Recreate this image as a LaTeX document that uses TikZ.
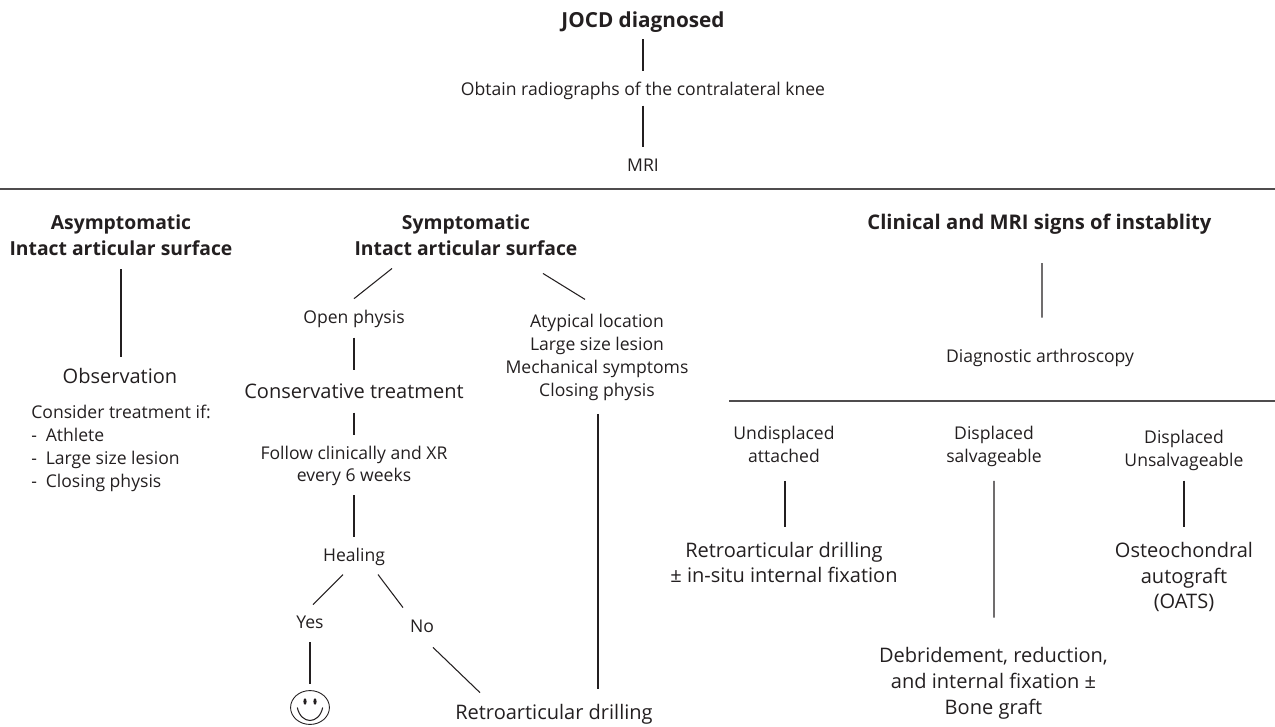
\documentclass[tikz,border=0pt]{standalone}
\usepackage{fontspec}
\setmainfont{Open Sans}
\usetikzlibrary{calc}
\usetikzlibrary{shapes.geometric}
\definecolor{inkblack}{HTML}{231F20}
\tikzset{
  every node/.style = {inner sep=0pt, align=center, text=inkblack, font=\fontsize{10}{13}\selectfont},
  big/.style = {font=\fontsize{11.4}{14.6}\selectfont},
  head/.style = {font=\fontsize{11}{15}\selectfont\bfseries},
  link/.style = {draw=inkblack, line width=0.6pt},
  rule/.style = {draw=inkblack!80, line width=0.8pt}
}

\begin{document}
\begin{tikzpicture}[x=0.02cm,y=-0.02cm]
\useasboundingbox (0,0) rectangle (1275,727);

% Top block
\node[head, font=\fontsize{11.8}{15}\selectfont\bfseries] (jocd) at (643,22.6) {JOCD diagnosed};
\node (xray) at (643,90.4) {Obtain radiographs of the contralateral knee};
\node (mri) at (643,165.7) {MRI};
\coordinate (ruleL) at (0,189);
\coordinate (ruleR) at (1275,189);
\draw[rule] (ruleL) -- (ruleR);
\draw[link] ($(jocd.south)+(0,6)$) -- ($(xray.north)+(0,-10.6)$);
\draw[link] ($(xray.south)+(0,6)$) -- ($(mri.north)+(0,-12.4)$);

% Asymptomatic
\node[head] (asym) at (121,235.5) {Asymptomatic\\Intact articular surface};
\node[big] (obs) at (120,376.4) {Observation};
\node[align=left, anchor=north west] (cons) at (31,405) {Consider treatment if:\\-\hspace{5pt}Athlete\\-\hspace{5pt}Large size lesion\\-\hspace{5pt}Closing physis};
\draw[link] ($(asym.south)+(0,13)$) -- ($(obs.north)+(1,-11)$);

% Symptomatic
\node[head] (sym) at (466,235.5) {Symptomatic\\Intact articular surface};
\node (open) at (354,319.4) {Open physis};
\node[big] (conserv) at (354,390.8) {Conservative treatment};
\node (follow) at (354,465.9) {Follow clinically and XR\\every 6 weeks};
\node (heal) at (354,557.4) {Healing};
\node (yes) at (310,622.7) {Yes};
\node (no) at (422,626.7) {No};
\node[draw=inkblack, line width=0.5pt, ellipse, minimum width=39*0.567pt, minimum height=34*0.567pt] (smile) at (310,707.5) {};
\node[big] (retroA) at (554,714.7) {Retroarticular drilling};
\node (atyp) at (597,357.4) {Atypical location\\Large size lesion\\Mechanical symptoms\\Closing physis};
\draw[link] ($(sym.south)+(-74,12)$) -- ($(open.north)+(0,-11.6)$);
\draw[link] ($(sym.south)+(77,17)$) -- ($(atyp.north)+(-12,-14.6)$);
\draw[link] ($(open.south)+(0,9)$) -- ($(conserv.north)+(0,-12.6)$);
\draw[link] ($(conserv.south)+(0,14)$) -- ($(follow.north)+(0,-10.6)$);
\draw[link] ($(follow.south)+(0,9)$) -- ($(heal.north)+(0,-11.6)$);
\draw[link] ($(heal.south)+(-11,8)$) -- ($(yes.north)+(3,-11.4)$);
\draw[link] ($(heal.south)+(24,8)$) -- ($(no.north)+(-19,-12.4)$);
\draw[link] ($(yes.south)+(0,13)$) -- ($(smile.north)+(0,-6.5)$);
\draw[link] ($(no.south)+(11,14)$) -- ($(retroA.north)+(-74,-11.7)$);
\draw[link] ($(atyp.south)+(1,13)$) -- ($(retroA.north)+(44,-15.7)$);

% Smiling face
\fill[inkblack] ($(smile)+(-5,-6)$) ellipse (1.6 and 3.2);
\fill[inkblack] ($(smile)+(5,-6)$) ellipse (1.6 and 3.2);
\draw[inkblack, line width=0.6pt] ($(smile)+(-12.7,0)$) .. controls ($(smile)+(-9,17.3)$) and ($(smile)+(9,17.3)$) .. ($(smile)+(12.7,0)$);

% Unstable
\node[head, font=\fontsize{11.5}{15}\selectfont\bfseries] (clin) at (1039.5,223.7) {Clinical and MRI signs of instablity};
\node (arth) at (1040,358.4) {Diagnostic arthroscopy};
\coordinate (splitL) at (729,401);
\coordinate (splitR) at (1275,401);
\draw[rule] (splitL) -- (splitR);
\draw[link] ($(clin.south)+(2.5,29)$) -- ($(arth.north)+(2,-31.6)$);

\node (undis) at (784,444.3) {Undisplaced\\attached};
\node[big] (retroB) at (784,562.4) {Retroarticular drilling\\± in-situ internal fixation};
\node (salv) at (994,446.4) {Displaced\\salvageable};
\node[big] (debr) at (993.5,683.3) {Debridement, reduction,\\and internal fixation ±\\Bone graft};
\node (unsalv) at (1184,450.3) {Displaced\\Unsalvageable};
\node[big] (oats) at (1184,577.3) {Osteochondral\\autograft\\(OATS)};
\draw[link] ($(undis.south)+(1,18)$) -- ($(retroB.north)+(1,-14.7)$);
\draw[link] ($(salv.south)+(0,13.8)$) -- ($(debr.north)+(0.5,-29.7)$);
\draw[link] ($(unsalv.south)+(0,9.8)$) -- ($(oats.north)+(0,-14.7)$);
\end{tikzpicture}
\end{document}
